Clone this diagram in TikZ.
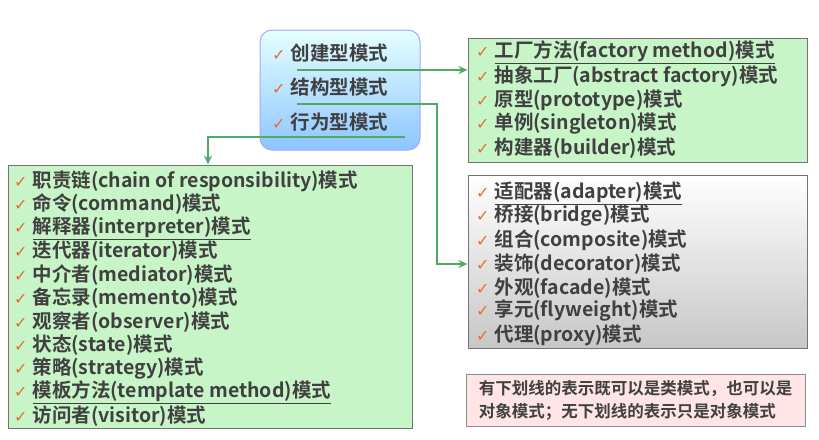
\documentclass[tikz,border=0pt]{standalone}
\usepackage{fontspec}
\setmainfont{Noto Sans CJK SC}[BoldFont={Noto Sans CJK SC Bold}]
\newfontfamily\dv{DejaVu Sans}
\usetikzlibrary{arrows.meta}
\definecolor{gfill}{RGB}{200,245,200}
\definecolor{gline}{RGB}{80,170,100}
\definecolor{ck}{RGB}{230,110,40}
\newcommand{\ck}{{\dv\fontsize{16}{16}\selectfont\color{ck}✓}\hspace{5pt}}
\begin{document}
\begin{tikzpicture}[x=1pt,y=-1pt,
  itm/.style={anchor=west,inner sep=0pt,font=\fontsize{19.5}{20}\selectfont\bfseries,text=black!75},
  conn/.style={draw=gline,line width=2pt,-{Stealth[length=9pt,width=8pt]}}]
\useasboundingbox (0,0) rectangle (819,439);
\fill[white] (0,0) rectangle (819,439);
% boxes
\node[draw=blue!35,line width=1pt,rounded corners=12pt,top color=cyan!10,bottom color=cyan!50!blue!45,minimum width=160pt,minimum height=120pt] (top) at (340,90) {};
\node[draw=black!55,line width=1pt,fill=gfill,minimum width=339pt,minimum height=124pt] (cre) at (637.5,100) {};
\node[draw=black!55,line width=1pt,top color=white,bottom color=black!22,minimum width=339pt,minimum height=173pt] (str) at (637.5,261.5) {};
\node[draw=black!55,line width=1pt,fill=gfill,minimum width=404pt,minimum height=263pt] (beh) at (210,296.5) {};
\node[draw=black!45,line width=1pt,fill=red!10,minimum width=339pt,minimum height=52pt,align=left,font=\fontsize{16.5}{23}\selectfont\bfseries,text=black!75,inner xsep=10pt] (note) at (635.5,400) {有下划线的表示既可以是类模式，也可以是\\对象模式；无下划线的表示只是对象模式};
% top items
\node[itm] (t1) at (272,53) {\ck 创建型模式};
\node[itm] (t2) at (272,87) {\ck 结构型模式};
\node[itm] (t3) at (272,122) {\ck 行为型模式};
% creational
\foreach \i/\t/\y in {1/\underline{工厂方法(factory method)模式}/52,2/抽象工厂(abstract factory)模式/76,3/原型(prototype)模式/100,4/单例(singleton)模式/124,5/构建器(builder)模式/148}
  \node[itm] (c\i) at (476,\y) {\ck \t};
% structural
\foreach \i/\t/\y in {1/\underline{适配器(adapter)模式}/193,2/桥接(bridge)模式/216,3/组合(composite)模式/240,4/装饰(decorator)模式/264,5/外观(facade)模式/288,6/享元(flyweight)模式/311,7/代理(proxy)模式/335}
  \node[itm] (s\i) at (476,\y) {\ck \t};
% behavioral
\foreach \i/\t/\y in {1/职责链(chain of responsibility)模式/181,2/命令(command)模式/204.5,3/\underline{解释器(interpreter)模式}/228,4/迭代器(iterator)模式/251.5,5/中介者(mediator)模式/275,6/备忘录(memento)模式/298.5,7/观察者(observer)模式/322,8/状态(state)模式/345.5,9/策略(strategy)模式/369,10/\underline{模板方法(template method)模式}/392.5,11/访问者(visitor)模式/416}
  \node[itm] (b\i) at (14,\y) {\ck \t};
% connectors
\coordinate (a1) at (297,70);
\coordinate (a2) at (297,104);
\coordinate (a2b) at (437,104);
\coordinate (a3) at (405,137);
\coordinate (a3b) at (208,137);
\draw[conn] (a1) -- (a1 -| cre.west);
\draw[conn] (a2) -- (a2b) |- (s4.west -| str.west);
\draw[conn] (a3) -- (a3b) -- (a3b |- beh.north);
\end{tikzpicture}
\end{document}
